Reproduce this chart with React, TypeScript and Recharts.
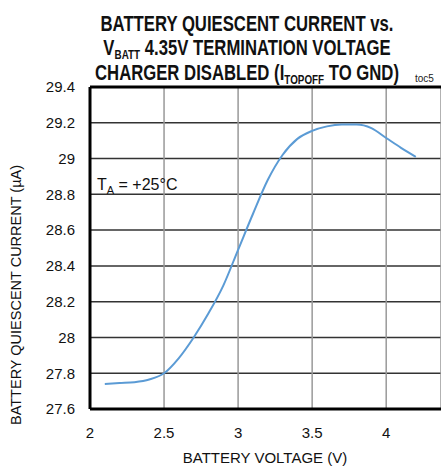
import { CartesianGrid, Line, LineChart, ReferenceLine, XAxis, YAxis } from 'recharts'

const voltage = [2.1, 2.2, 2.3, 2.4, 2.5, 2.6, 2.7, 2.8, 2.9, 3.0, 3.1, 3.2, 3.3, 3.4, 3.5, 3.6, 3.7, 3.8, 3.9, 4.0, 4.1, 4.2]
const current = [
  27.74, 27.745, 27.75, 27.765, 27.8, 27.885, 28.0, 28.135, 28.29, 28.49, 28.69, 28.88, 29.02, 29.11,
  29.155, 29.18, 29.19, 29.19, 29.17, 29.115, 29.06, 29.01,
]
const xTicks = [2, 2.5, 3, 3.5, 4]
const yTicks = [27.6, 27.8, 28, 28.2, 28.4, 28.6, 28.8, 29, 29.2, 29.4]

const data = voltage.map((v, i) => ({ v, i: current[i] }))

const font = '"Liberation Sans", Arial, sans-serif'

// title is squeezed horizontally to match the condensed face of the original
const squeeze = 'translate(247 0) scale(0.76 1) translate(-247 0)'

export default function App() {
  return (
    <div style={{ position: 'absolute', left: 0, top: 0, width: 441, height: 470, overflow: 'hidden', background: '#fff' }}>
      <LineChart width={441} height={470} data={data} margin={{ top: 87, right: 0, left: 0, bottom: 30 }}>
        <CartesianGrid vertical={false} stroke="#333" strokeWidth={1.5} />
        <CartesianGrid horizontal={false} stroke="#999" strokeWidth={1.5} />
        <XAxis
          type="number"
          dataKey="v"
          domain={[2, 4.37]}
          ticks={xTicks}
          allowDataOverflow
          height={31}
          tickLine={false}
          axisLine={{ stroke: '#000', strokeWidth: 3 }}
          tick={{ fill: '#111', fontSize: 15, fontFamily: font }}
          tickMargin={12}
        />
        <YAxis
          type="number"
          domain={[27.6, 29.4]}
          ticks={yTicks}
          width={90}
          tickLine={false}
          axisLine={{ stroke: '#000', strokeWidth: 3 }}
          tick={{ fill: '#111', fontSize: 15, fontFamily: font }}
          tickMargin={9}
        />
        <ReferenceLine y={29.4} stroke="#000" strokeWidth={3} />
        <Line
          type="monotone"
          dataKey="i"
          stroke="#5b9bd5"
          strokeWidth={2}
          dot={false}
          isAnimationActive={false}
        />
      </LineChart>
      <svg width={441} height={470} style={{ position: 'absolute', left: 0, top: 0, pointerEvents: 'none' }}>
        <g transform={squeeze} fontFamily={font} fontWeight={700} fontSize={22} fill="#111" textAnchor="middle">
          <text x={247} y={31}>BATTERY QUIESCENT CURRENT vs.</text>
          <text x={247} y={55}>
            V<tspan fontSize={13} dy={4}>BATT</tspan>
            <tspan dy={-4}> 4.35V TERMINATION VOLTAGE</tspan>
          </text>
          <text x={247} y={80}>
            CHARGER DISABLED (I<tspan fontSize={13} dy={4}>TOPOFF</tspan>
            <tspan dy={-4}> TO GND)</tspan>
          </text>
        </g>
        <text x={415} y={82} fontFamily={font} fontSize={10} fill="#222">toc5</text>
        <text x={97} y={190} fontFamily={font} fontSize={16} fill="#111">
          T<tspan fontSize={11} dy={4}>A</tspan>
          <tspan dy={-4}> = +25°C</tspan>
        </text>
        <text
          x={0}
          y={0}
          transform="translate(21 295) rotate(-90)"
          textAnchor="middle"
          fontFamily={font}
          fontSize={14.5}
          fill="#111"
        >
          BATTERY QUIESCENT CURRENT (µA)
        </text>
        <text x={265} y={463} textAnchor="middle" fontFamily={font} fontSize={15} fill="#111">
          BATTERY VOLTAGE (V)
        </text>
      </svg>
    </div>
  )
}
